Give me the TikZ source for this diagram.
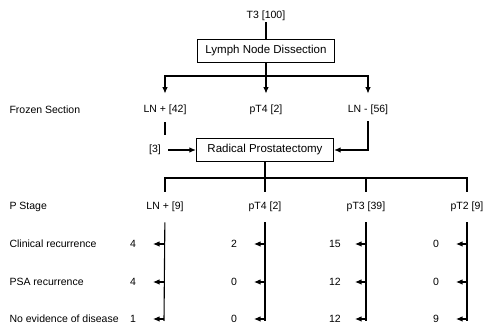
\documentclass[tikz,border=0pt]{standalone}
\usepackage{fontspec}
\setmainfont{Liberation Sans}
\usetikzlibrary{arrows.meta}

\tikzset{
  lbl/.style={inner sep=1pt,font=\fontsize{10.5}{12}\selectfont},
  rowlbl/.style={lbl,anchor=west},
  procbox/.style={draw,line width=1.2pt,minimum width=137pt,minimum height=23pt,inner sep=2pt,font=\fontsize{11.5}{13}\selectfont},
  tip/.style={-{Latex[length=6.5pt,width=5.5pt]}}
}

\begin{document}
\begin{tikzpicture}[x=1pt,y=-1pt,line width=1.1pt]
        \useasboundingbox (0,0) rectangle (483,328);

        % first stage
        \node[lbl] (t3) at (266,16) {T3 [100]};
        \node[procbox] (lnd) at (266,51) {Lymph Node Dissection};
        \coordinate (split1) at (266,76);

        \node[rowlbl] (frozen) at (8,110) {Frozen Section};
        \node[lbl] (lnpos) at (165,110) {LN + [42]};
        \node[lbl] (pt4a) at (266,110) {pT4 [2]};
        \node[lbl] (lnneg) at (368,110) {LN - [56]};

        \draw (t3) -- (lnd);
        \draw[tip,shorten >=10pt] (lnd) -- (pt4a);
        \draw[tip,shorten >=10pt] (lnd.south) -- (split1) -| (lnpos.north);
        \draw[tip,shorten >=10pt] (split1) -| (lnneg.north);

        % second stage
        \node[procbox] (rp) at (265,150) {Radical Prostatectomy};
        \node[lbl] (three) at (155,150) {[3]};
        \coordinate (lnposend) at (165,135);
        \coordinate (split2) at (265,178);

        \draw[shorten <=6pt] (lnpos) -- (lnposend);
        \draw[tip,shorten <=6pt] (three) -- (rp);
        \draw[tip,shorten <=5pt] (lnneg) |- (rp);

        \node[rowlbl] (pstage) at (8,207) {P Stage};
        \node[lbl] (lnp) at (165,207) {LN + [9]};
        \node[lbl] (pt4) at (265,207) {pT4 [2]};
        \node[lbl] (pt3) at (366,207) {pT3 [39]};
        \node[lbl] (pt2) at (467,207) {pT2 [9]};

        \draw[shorten >=9pt] (rp) -- (pt4);
        \draw[shorten >=9pt] (split2) -| (lnp);
        \draw[shorten >=9pt] (split2) -| (pt3);
        \draw[shorten >=9pt] (split2) -| (pt2);

        % outcomes
        \node[rowlbl] (clin) at (8,244) {Clinical recurrence};
        \node[rowlbl] (psa) at (8,282) {PSA recurrence};
        \node[rowlbl] (ned) at (8,319) {No evidence of disease};

        \foreach \col/\x/\a/\b/\c in {lnp/164/4/4/1, pt4/265/2/0/0, pt3/366/15/12/12, pt2/467/0/0/9} {
            \coordinate (\col bot) at (\x,321);
            \draw[shorten <=9pt] (\col) -- (\col bot);
            \foreach \y/\v [count=\r] in {244/\a, 282/\b, 319/\c} {
                \coordinate (\col r\r) at (\x,\y);
                \node[lbl] (\col n\r) at (\x-31,\y) {\v};
                \draw[tip] (\col r\r) -- ++(-11,0);
            }
        }
    \end{tikzpicture}
\end{document}
